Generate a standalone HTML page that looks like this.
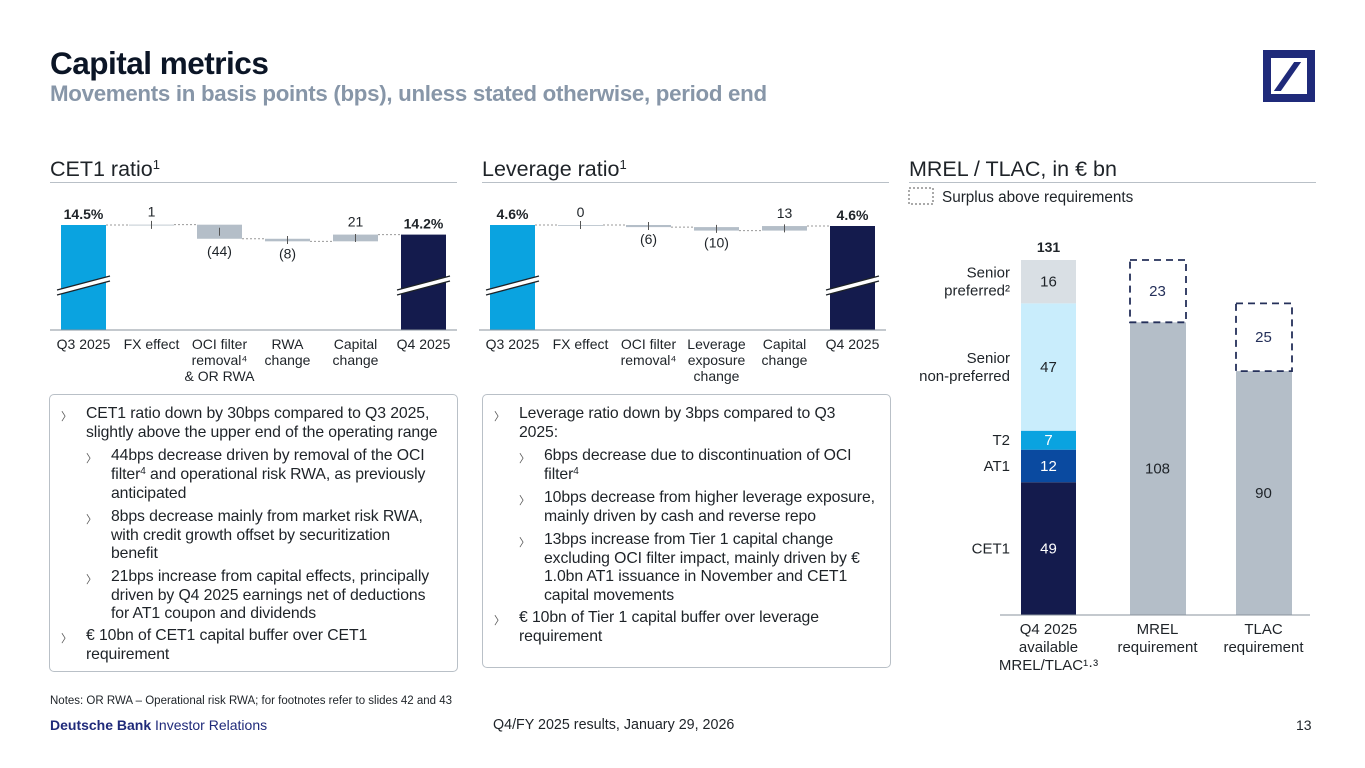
<!DOCTYPE html>
<html><head><meta charset="utf-8">
<style>
body{margin:0;width:1365px;height:768px;background:#fff;font-family:"Liberation Sans",sans-serif;color:#1e2328;overflow:hidden;position:relative}
.a{position:absolute;white-space:nowrap}
.t{font-size:15.8px;letter-spacing:-0.1px}
.box{position:absolute;border:1px solid #b9c0c7;border-radius:5px}
sup{font-size:10px;vertical-align:5px;line-height:0}
svg text{font-family:"Liberation Sans",sans-serif}
</style></head><body>
<div class="a" style="left:50px;top:45px;font-size:31.5px;font-weight:bold;color:#0b1526;letter-spacing:-0.5px">Capital metrics</div>
<div class="a" style="left:50px;top:81px;font-size:22.3px;font-weight:bold;color:#8796a8;letter-spacing:-0.3px">Movements in basis points (bps), unless stated otherwise, period end</div>
<div class="a" style="left:1263px;top:50px;width:36px;height:36px;border:8px solid #1f2a7a">
<div style="position:absolute;left:13px;top:4px;width:7px;height:29px;background:#1f2a7a;transform:skewX(-35deg)"></div></div>

<div class="a" style="left:50px;top:157px;font-size:21.5px">CET1 ratio<sup style="font-size:13px;vertical-align:7px">1</sup></div>
<div class="a" style="left:482px;top:157px;font-size:21.5px">Leverage ratio<sup style="font-size:13px;vertical-align:7px">1</sup></div>
<div class="a" style="left:909px;top:157px;font-size:21.5px">MREL / TLAC, in € bn</div>
<div class="a" style="left:50px;top:182px;width:407px;border-top:1px solid #b9c0c7"></div>
<div class="a" style="left:482px;top:182px;width:407px;border-top:1px solid #b9c0c7"></div>
<div class="a" style="left:909px;top:182px;width:407px;border-top:1px solid #b9c0c7"></div>

<svg class="a" style="left:0;top:0" width="1365" height="700" id="ch"></svg>

<div class="box" style="left:49px;top:394px;width:407px;height:276px"></div>
<div class="box" style="left:482px;top:394px;width:407px;height:272px"></div>
<div id="txt"></div>

<div class="a" style="left:50px;top:695px;font-size:11.5px">Notes: OR RWA – Operational risk RWA; for footnotes refer to slides 42 and 43</div>
<div class="a" style="left:50px;top:717px;font-size:14px;color:#1f2a7a"><b>Deutsche Bank</b> Investor Relations</div>
<div class="a" style="left:493px;top:717px;font-size:14.3px">Q4/FY 2025 results, January 29, 2026</div>
<div class="a" style="left:1296px;top:717px;font-size:14px">13</div>

<script>
const cetCats=["Q3 2025","FX effect","OCI filter|removal⁴|& OR RWA","RWA|change","Capital|change","Q4 2025"];
const cetStart=14.5, cetEnd=14.2;
const cetDeltas=[1,-44,-8,21];
const levCats=["Q3 2025","FX effect","OCI filter|removal⁴","Leverage|exposure|change","Capital|change","Q4 2025"];
const levStart=4.6, levEnd=4.6;
const levDeltas=[0,-6,-10,13];
const mrelStack=[49,12,7,47,16];
const mrelStackNames=["CET1","AT1","T2","Senior|non-preferred","Senior|preferred²"];
const mrelReq=[108,90];
const mrelSurplus=[23,25];
const mrelCats=["Q4 2025|available|MREL/TLAC¹·³","MREL|requirement","TLAC|requirement"];

const S=document.getElementById('ch'),NS="http://www.w3.org/2000/svg";
function el(t,a,p){const e=document.createElementNS(NS,t);for(const k in a)e.setAttribute(k,a[k]);(p||S).appendChild(e);return e;}
function tx(x,y,s,o){const e=el('text',Object.assign({x:x,y:y,'font-size':14,'text-anchor':'middle',fill:'#1e2328'},o||{}));e.textContent=s;return e;}
function fmt(d){return d<0?'('+(-d)+')':''+d;}

function waterfall(x0,cats,start,end,deltas,sc,name,diff){
  const top=225,base=330,w=45,step=68;
  const g=el('g',{});
  const xOf=i=>x0+i*step;
  let r=el('rect',{x:xOf(0),y:top,width:w,height:base-top,fill:'#0aa3e0'},g);
  
  tx(xOf(0)+w/2,219,start.toFixed(1)+'%',{'font-weight':'bold'});
  let cur=0;
  deltas.forEach((d,i)=>{
    const xi=xOf(i+1);const y1=top+cur*sc;const y2=top+(cur-d)*sc;
    el('line',{x1:xOf(i)+w,x2:xi,y1:y1,y2:y1,stroke:'#999','stroke-dasharray':'2,2','stroke-width':1},g);
    const b=el('rect',{x:xi,y:Math.min(y1,y2),width:w,height:Math.max(Math.abs(y2-y1),0.8),fill:'#b4bec8'},g);
    
    const mid=(y1+y2)/2;
    el('line',{x1:xi+w/2,x2:xi+w/2,y1:mid-4,y2:mid+4,stroke:'#555'},g);
    if(d>=0)tx(xi+w/2,Math.min(y1,y2)-8,fmt(d));else tx(xi+w/2,Math.max(y1,y2)+17,fmt(d));
    cur-=d;
  });
  const xe=xOf(5);const ye=top+(start-end)*100*sc+(diff||0);
  el('line',{x1:xOf(4)+w,x2:xe,y1:top+cur*sc,y2:top+cur*sc,stroke:'#999','stroke-dasharray':'2,2'},g);
  r=el('rect',{x:xe,y:ye,width:w,height:base-ye,fill:'#141b4d'},g);
  
  tx(xe+w/2,ye-6,end.toFixed(1)+'%',{'font-weight':'bold'});
  [[xOf(0)-4,290],[xe-4,290]].forEach(p=>{
    el('polygon',{points:`${p[0]},${p[1]} ${p[0]+w+8},${p[1]-14} ${p[0]+w+8},${p[1]-9} ${p[0]},${p[1]+5}`,fill:'#fff'},g);
    el('line',{x1:p[0],y1:p[1],x2:p[0]+w+8,y2:p[1]-14,stroke:'#1e2328','stroke-width':1.3},g);
    el('line',{x1:p[0],y1:p[1]+5,x2:p[0]+w+8,y2:p[1]-9,stroke:'#1e2328','stroke-width':1.3},g);
  });
  el('line',{x1:x0-11,x2:x0+5*step+w+11,y1:base,y2:base,stroke:'#8a939c'},g);
  cats.forEach((c,i)=>c.split('|').forEach((l,j)=>{
    tx(xOf(i)+w/2,349+j*16,l,{'font-size':14});
  }));
}
waterfall(61,cetCats,cetStart,cetEnd,cetDeltas,0.32,'cet1-waterfall');
waterfall(490,levCats,levStart,levEnd,levDeltas,0.35,'leverage-waterfall',1);

const base=615,k=2.71,xs=[1021,1130,1236],bw=55;
const cols=['#141b4d','#0a4aa0','#0aa3e0','#c9edfc','#d9dfe4'];
const tc=['#fff','#fff','#fff','#1e2328','#1e2328'];
let y=base;
mrelStack.forEach((v,i)=>{
  const h=v*k;y-=h;
  const r=el('rect',{x:xs[0],y:y,width:bw,height:h,fill:cols[i]});
  
  tx(xs[0]+bw/2,y+h/2+5,''+v,{fill:tc[i],'font-size':15});
  const ls=mrelStackNames[i].split('|');
  ls.forEach((l,j)=>tx(1010,y+h/2+5+(j-(ls.length-1)/2)*18,l,{'text-anchor':'end','font-size':15}));
});
tx(xs[0]+bw/2,y-8,''+mrelStack.reduce((a,b)=>a+b,0),{'font-weight':'bold'});
mrelReq.forEach((v,i)=>{
  const x=xs[i+1],h=v*k;
  const r=el('rect',{x:x,y:base-h,width:bw+1,height:h,fill:'#b4bec8'});
  
  tx(x+bw/2,base-h/2+5,''+v,{'font-size':15});
  const sh=mrelSurplus[i]*k;
  const s=el('rect',{x:x,y:base-h-sh,width:bw+1,height:sh,fill:'none',stroke:'#25305a','stroke-width':1.8,'stroke-dasharray':'7,5'});
  
  tx(x+bw/2,base-h-sh/2+5,''+mrelSurplus[i],{fill:'#25305a','font-size':15});
});
el('line',{x1:1000,x2:1310,y1:base,y2:base,stroke:'#8a939c'});
mrelCats.forEach((c,i)=>c.split('|').forEach((l,j)=>tx(xs[i]+bw/2,634+j*18,l,{'font-size':15})));
const lg=el('rect',{x:909,y:188,width:24,height:16,fill:'none',stroke:'#555','stroke-dasharray':'2,2'});

tx(942,202,'Surplus above requirements',{'text-anchor':'start','font-size':15.3});

const L=[
[49,415,0,"CET1 ratio down by 30bps compared to Q3 2025,"],[49,434,0,"slightly above the upper end of the operating range",1],
[49,457,1,"44bps decrease driven by removal of the OCI"],[49,476,1,"filter<sup>4</sup> and operational risk RWA, as previously",1],[49,495,1,"anticipated",1],
[49,518,1,"8bps decrease mainly from market risk RWA,"],[49,537,1,"with credit growth offset by securitization",1],[49,555,1,"benefit",1],
[49,578,1,"21bps increase from capital effects, principally"],[49,597,1,"driven by Q4 2025 earnings net of deductions",1],[49,615,1,"for AT1 coupon and dividends",1],
[49,637,0,"€ 10bn of CET1 capital buffer over CET1"],[49,656,0,"requirement",1],
[482,415,0,"Leverage ratio down by 3bps compared to Q3"],[482,434,0,"2025:",1],
[482,457,1,"6bps decrease due to discontinuation of OCI"],[482,476,1,"filter<sup>4</sup>",1],
[482,499,1,"10bps decrease from higher leverage exposure,"],[482,518,1,"mainly driven by cash and reverse repo",1],
[482,541,1,"13bps increase from Tier 1 capital change"],[482,560,1,"excluding OCI filter impact, mainly driven by €",1],[482,578,1,"1.0bn AT1 issuance in November and CET1",1],[482,597,1,"capital movements",1],
[482,619,0,"€ 10bn of Tier 1 capital buffer over leverage"],[482,638,0,"requirement",1]];
const T=document.getElementById('txt');
L.forEach(l=>{
  const d=document.createElement('div');d.className='a t';
  
  
  const xl=l[0]+(l[2]?37:12), xt=l[0]+(l[2]?62:37);
  d.style.left=xt+'px';d.style.top=(l[1]-10)+'px';d.innerHTML=l[3];T.appendChild(d);
  if(!l[4]){const b=document.createElement('div');b.className='a';
  
  
  b.style.left=xl+'px';b.style.color='#555';b.textContent='〉';b.style.fontSize='11px';b.style.top=(l[1]-7)+'px';T.appendChild(b);}
});
</script>
</body></html>
